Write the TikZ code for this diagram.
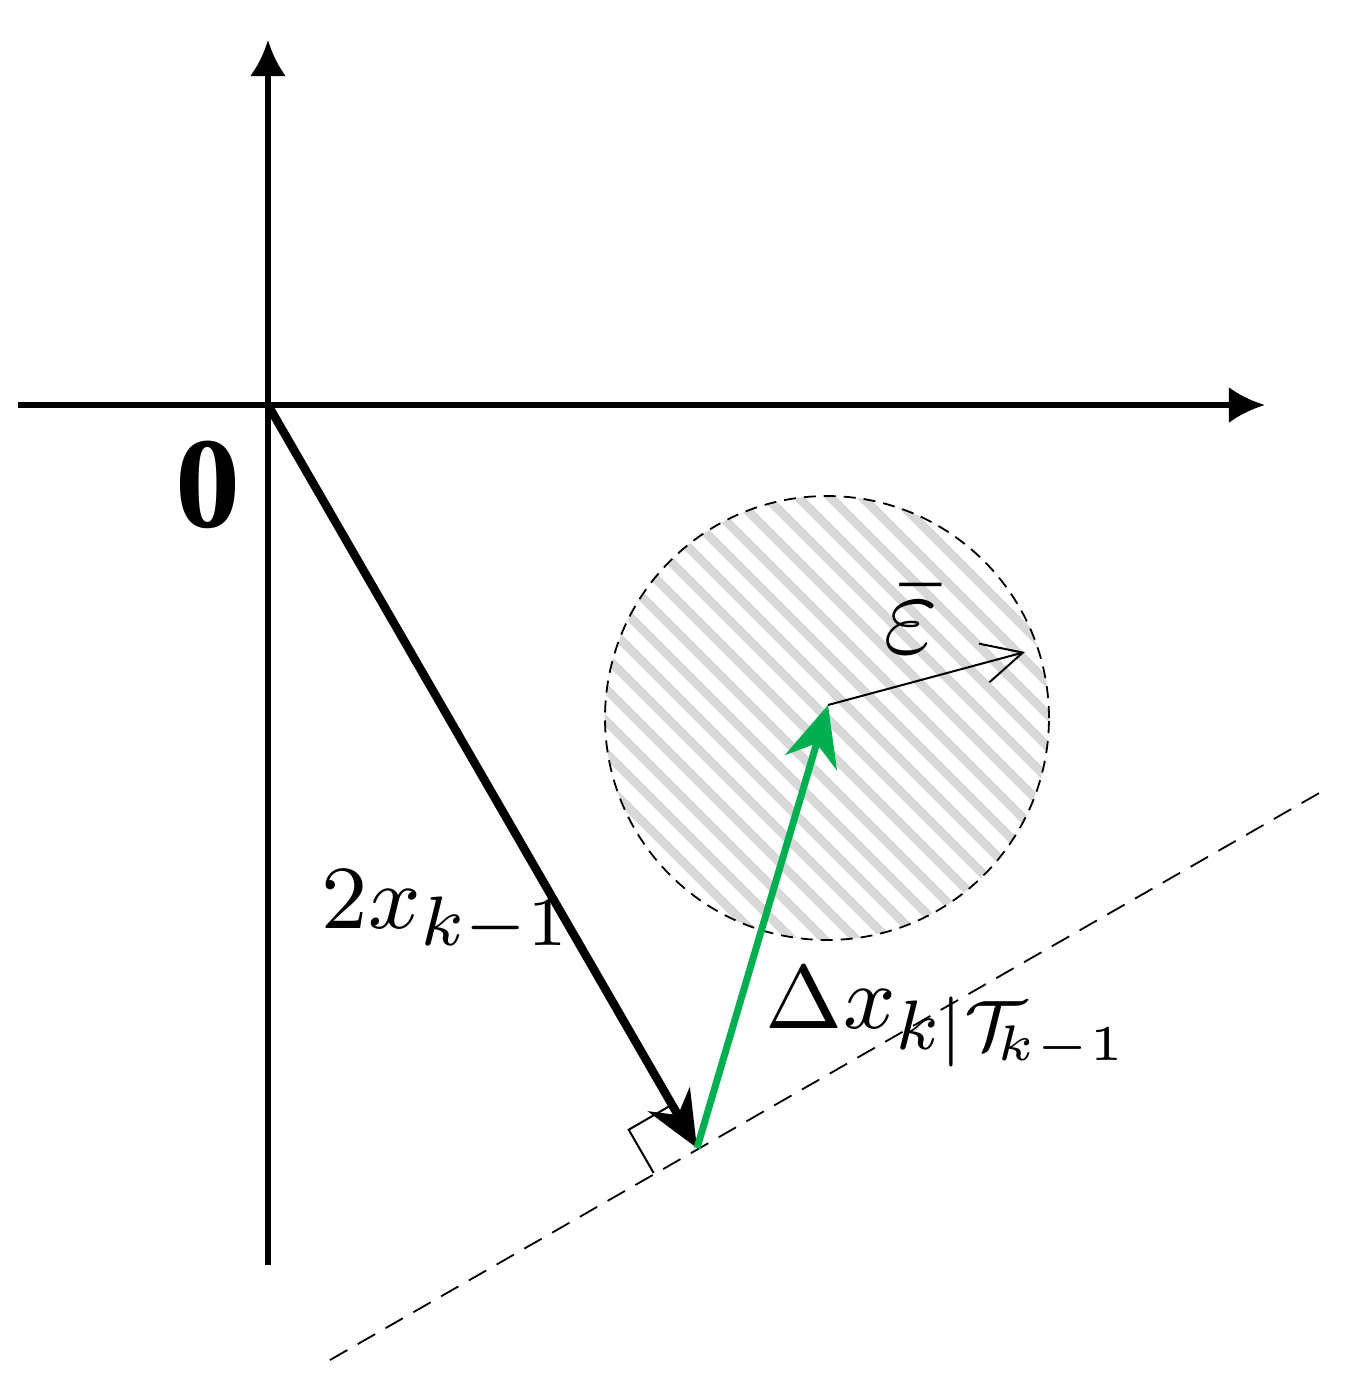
\documentclass[tikz,border=0pt]{standalone}
\usepackage{fontspec}
\newfontfamily\tnr{Liberation Serif}
\usetikzlibrary{arrows.meta,calc}
\definecolor{arrgreen}{RGB}{0,176,80}
\definecolor{hatchgray}{RGB}{216,216,216}
\begin{document}
\begin{tikzpicture}[x=0.1pt,y=-0.1pt,
  axis/.style={line width=0.55pt,-{Latex[length=3.6pt,width=3.6pt]}},
  bigarrow/.style={line width=0.85pt,-{Stealth[length=5.6pt,width=4.8pt,inset=1.8pt]}},
  grarrow/.style={arrgreen,line width=0.7pt,-{Stealth[length=6pt,width=5.4pt,inset=2pt]}},
  thinarrow/.style={line width=0.2pt,-{Straight Barb[length=4pt,width=4pt]}},
  dashline/.style={line width=0.18pt,dash pattern=on 2pt off 1.2pt},
  lbl/.style={inner sep=0pt,font=\fontsize{9.5}{11}\selectfont}]
\useasboundingbox (0,0) rectangle (1368,1394);
\coordinate (O) at (268,405);
\coordinate (F) at (697,1148);
\coordinate (P) at (828,705);
\coordinate (C) at (827,718);
\coordinate (E) at (1025,652);
\coordinate (XL) at (18,405);
\coordinate (XR) at (1265,405);
\coordinate (YB) at (268,1265);
\coordinate (YT) at (268,40);
\coordinate (DL) at (330,1360);
\coordinate (DR) at (1328,788);
% hatched disc
\begin{scope}
  \clip (C) circle[radius=22.2pt];
  \foreach \k in {-20,...,20}
    \draw[hatchgray,line width=0.9pt] ({827+\k*32-300},418) -- ++(600,600);
\end{scope}
\draw[line width=0.18pt,dash pattern=on 1.2pt off 0.8pt] (C) circle[radius=22.2pt];
% tangent dashed line
\draw[dashline] (DL) -- (DR);
% right-angle mark
\coordinate (RA) at ($(F)!5pt!(DL)$);
\coordinate (RB) at ($(F)!5pt!(O)$);
\draw[line width=0.2pt] (RA) -- ($(RA)+(RB)-(F)$) -- (RB);
% vectors
\draw[bigarrow] (O) -- (F);
\draw[grarrow] (F) -- (P);
\draw[thinarrow] (P) -- (E);
% axes
\draw[axis] (XL) -- (XR);
\draw[axis] (YB) -- (YT);
% labels
\node[inner sep=0pt] (zero) at (208,485) {\fontsize{13}{15}\selectfont\tnr\bfseries 0};
\node[lbl,anchor=base west] (lx) at (320,928) {$2x_{k-1}$};
\node[lbl,anchor=base west] (ldx) at (764,1028) {$\Delta x_{k|\mathcal{T}_{\!k-1}}$};
\node[inner sep=0pt] (leps) at (911,620) {\fontsize{12}{14}\selectfont$\bar{\varepsilon}$};
\end{tikzpicture}
\end{document}
